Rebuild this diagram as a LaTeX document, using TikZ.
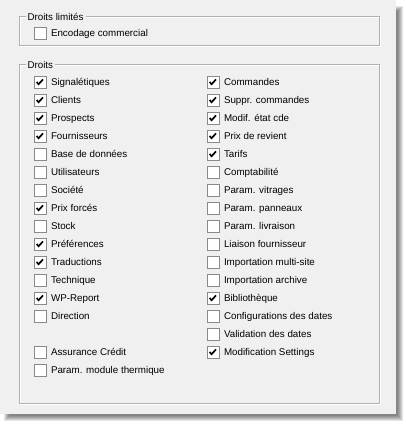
\documentclass[tikz,border=0pt]{standalone}
\usepackage{fontspec}
\setmainfont{Liberation Sans}
\usetikzlibrary{positioning}
\definecolor{winbg}{HTML}{F0F0F0}
\definecolor{etch}{HTML}{B0B0B0}
\definecolor{boxedge}{HTML}{8A8A8A}

\begin{document}
\begin{tikzpicture}[x=1pt,y=-1pt,line width=1pt,node distance=4pt,
        cbox/.style={rectangle,draw=boxedge,fill=white,minimum size=12pt,inner sep=0pt},
        ticked/.style={path picture={\draw[black,line width=1.7pt,line join=miter]
            ([xshift=-3.4pt]path picture bounding box.center) -- ++(2,2.2) -- ++(4.4,-4.8);}},
        unticked/.style={},
        lbl/.style={inner sep=0pt,yshift=-3.6pt,font=\fontsize{9.8}{12}\selectfont},
        grp/.style={inner sep=2pt,fill=winbg,font=\fontsize{9.8}{12}\selectfont}]
    \useasboundingbox (0,0) rectangle (406,424);
    % window and its shadow
    \foreach \k in {0,...,5}
        \fill[black,opacity=0.1] (4+\k,6+\k) rectangle (402.5-\k,420.5-\k);
    \fill[winbg] (0,0) rectangle (396,414);
    % Droits limites
    \draw[white] (20,17) rectangle (380,46);
    \draw[etch] (19,16) rectangle (379,45);
    \node[grp,anchor=west] (limites) at (25,16.5) {Droits limités};
    \node[cbox] (enc) at (40,33) {};
    \node[lbl,base right=of enc] (textenc) {Encodage commercial};
    % Droits
    \draw[white] (20,65) rectangle (380,404);
    \draw[etch] (19,64) rectangle (379,403);
    \node[grp,anchor=west] (droits) at (25,64.5) {Droits};
    \foreach \r/\txt/\chk in {1/Signalétiques/ticked, 2/Clients/ticked,
            3/Prospects/ticked, 4/Fournisseurs/ticked, 5/Base de données/unticked,
            6/Utilisateurs/unticked, 7/Société/unticked, 8/Prix forcés/ticked,
            9/Stock/unticked, 10/Préférences/ticked, 11/Traductions/ticked,
            12/Technique/unticked, 13/WP-Report/ticked, 14/Direction/unticked,
            16/Assurance Crédit/unticked, 17/Param. module thermique/unticked}{
        \node[cbox,\chk] (boxl\r) at (40,64+18*\r) {};
        \node[lbl,base right=of boxl\r] (textl\r) {\txt};
    }
    \foreach \r/\txt/\chk in {1/Commandes/ticked, 2/Suppr. commandes/ticked,
            3/Modif. état cde/ticked, 4/Prix de revient/ticked, 5/Tarifs/ticked,
            6/Comptabilité/unticked, 7/Param. vitrages/unticked,
            8/Param. panneaux/unticked, 9/Param. livraison/unticked,
            10/Liaison fournisseur/unticked, 11/Importation multi-site/unticked,
            12/Importation archive/unticked, 13/Bibliothèque/ticked,
            14/Configurations des dates/unticked, 15/Validation des dates/unticked,
            16/Modification Settings/ticked}{
        \node[cbox,\chk] (boxr\r) at (213,64+18*\r) {};
        \node[lbl,base right=of boxr\r] (textr\r) {\txt};
    }
\end{tikzpicture}
\end{document}
